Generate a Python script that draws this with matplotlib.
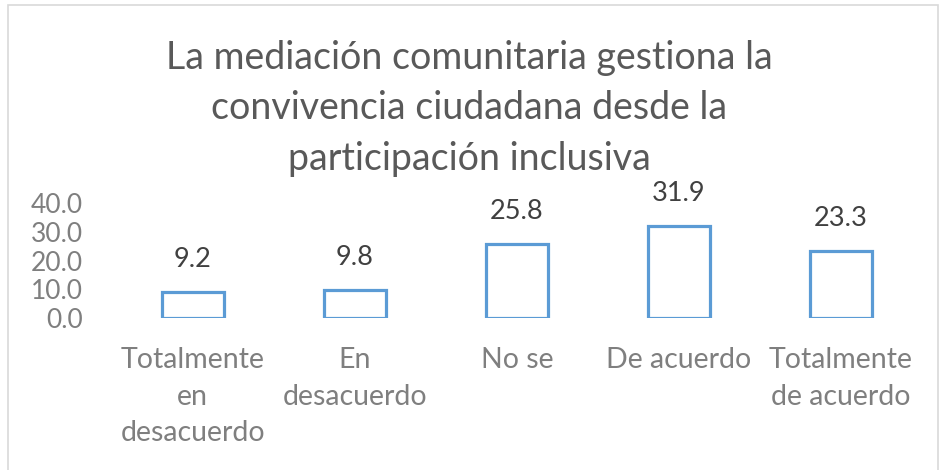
import matplotlib.pyplot as plt
from matplotlib.patches import Rectangle

categorias = ["Totalmente\nen\ndesacuerdo", "En\ndesacuerdo", "No se", "De acuerdo", "Totalmente\nde acuerdo"]
valores = [9.2, 9.8, 25.8, 31.9, 23.3]
yticks = [0, 10, 20, 30, 40]

plt.rcParams['font.family'] = ['Lato', 'DejaVu Sans']

fig = plt.figure(figsize=(9.39, 4.70), dpi=100)
ax = fig.add_axes([0.119, 0.323, 0.863, 0.245])

x = range(len(categorias))
bars = ax.bar(x, valores, width=0.38, facecolor='white', edgecolor='#5B9BD5', linewidth=2.3)

for xi, v in zip(x, valores):
    ax.annotate(f"{v:.1f}", (xi, v), xytext=(0, 20), textcoords='offset pixels',
                ha='center', va='bottom', fontsize=19.5, color='#404040')

ax.set_ylim(0, 40)
ax.set_xlim(-0.5, len(categorias) - 0.5)
ax.set_yticks(yticks)
ax.set_yticklabels([f"{t:.1f}" for t in yticks])
ax.set_xticks(list(x))
ax.set_xticklabels(categorias, linespacing=1.5)
ax.tick_params(axis='y', length=0, pad=21, labelsize=19, labelcolor='#7F7F7F')
ax.tick_params(axis='x', length=0, pad=21, labelsize=20.5, labelcolor='#7F7F7F')
for s in ax.spines.values():
    s.set_visible(False)

fig.text(0.5, 0.77, "La mediación comunitaria gestiona la\nconvivencia ciudadana desde la\nparticipación inclusiva",
         ha='center', va='center', fontsize=27, color='#595959', linespacing=1.5)

fig.patches.append(Rectangle((0.009, -0.01), 0.99, 1.0, transform=fig.transFigure,
                             fill=False, edgecolor='#D9D9D9', linewidth=1.2))

fig.savefig("out.png", dpi=100)
